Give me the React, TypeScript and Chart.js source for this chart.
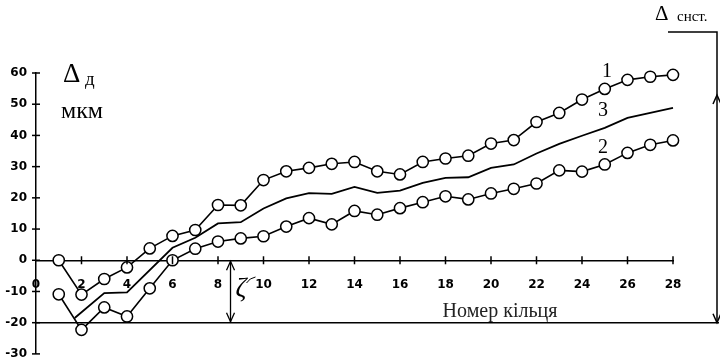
import React, { useEffect, useRef } from "react";
import { Chart, registerables } from "chart.js";

Chart.register(...registerables);

const ringsX: number[] = [1, 2, 3, 4, 5, 6, 7, 8, 9, 10, 11, 12, 13, 14, 15, 16, 17, 18, 19, 20, 21, 22, 23, 24, 25, 26, 27, 28];
const series1: number[] = [0, -11, -6, -2.3, 3.8, 7.8, 9.7, 17.7, 17.6, 25.7, 28.5, 29.6, 30.9, 31.5, 28.5, 27.5, 31.5, 32.6, 33.5, 37.4, 38.5, 44.3, 47.2, 51.5, 54.9, 57.8, 58.8, 59.4];
const series2: number[] = [-10.9, -22.3, -15.1, -18, -9, 0, 3.7, 6, 7, 7.7, 10.8, 13.5, 11.5, 15.8, 14.6, 16.7, 18.6, 20.5, 19.5, 21.4, 22.9, 24.6, 28.8, 28.4, 30.7, 34.4, 37, 38.4];
const series3X: number[] = [1.7, 3, 4, 6, 7, 8, 9, 10, 11, 12, 13, 14, 15, 16, 17, 18, 19, 20, 21, 22, 23, 24, 25, 26, 27, 28, 29.2];
const series3: number[] = [-18.5, -10.5, -10.3, 4, 7.2, 11.8, 12.2, 16.6, 19.8, 21.5, 21.3, 23.5, 21.6, 22.3, 24.8, 26.4, 26.6, 29.6, 30.7, 34.2, 37.3, 39.9, 42.4, 45.6, 47.2, 48.8, 52.3];
const xTicks = { min: 0, max: 28, step: 2 };
const yTicks = { min: -30, max: 60, step: 10 };
const zetaLevel = -20;

const SERIF = "'Liberation Serif', 'DejaVu Serif', serif";

function arrowHead(ctx: CanvasRenderingContext2D, x: number, y: number, dir: number) {
  ctx.beginPath();
  ctx.moveTo(x - 4, y - dir * 9);
  ctx.lineTo(x, y);
  ctx.lineTo(x + 4, y - dir * 9);
  ctx.stroke();
}

const annotations = {
  id: "annotations",
  afterDraw(chart: any) {
    const ctx: CanvasRenderingContext2D = chart.ctx;
    const xs = chart.scales.x;
    const ys = chart.scales.y;
    const area = chart.chartArea;
    const y0 = ys.getPixelForValue(0);
    ctx.save();
    ctx.strokeStyle = "#000";
    ctx.fillStyle = "#000";
    ctx.lineWidth = 1.5;
    // crossing tick marks
    for (let v = xTicks.min + xTicks.step; v <= xTicks.max; v += xTicks.step) {
      const px = xs.getPixelForValue(v);
      ctx.beginPath();
      ctx.moveTo(px, y0 - 4);
      ctx.lineTo(px, y0 + 4);
      ctx.stroke();
    }
    for (let v = yTicks.min; v <= yTicks.max; v += yTicks.step) {
      const py = ys.getPixelForValue(v);
      ctx.beginPath();
      ctx.moveTo(area.left - 4, py);
      ctx.lineTo(area.left + 4, py);
      ctx.stroke();
    }
    // line at -20
    const yz = ys.getPixelForValue(zetaLevel);
    ctx.beginPath();
    ctx.moveTo(area.left, yz);
    ctx.lineTo(719, yz);
    ctx.stroke();
    // zeta arrow
    const zx = xs.getPixelForValue(8.55);
    ctx.lineWidth = 1.3;
    ctx.beginPath();
    ctx.moveTo(zx, y0);
    ctx.lineTo(zx, yz);
    ctx.stroke();
    arrowHead(ctx, zx, y0 + 1, -1);
    arrowHead(ctx, zx, yz - 1, 1);
    ctx.font = `italic 27px ${SERIF}`;
    ctx.textAlign = "left";
    ctx.textBaseline = "alphabetic";
    ctx.fillText("ζ", zx + 5, 296);
    ctx.lineWidth = 1;
    ctx.beginPath();
    ctx.moveTo(zx + 16, 283);
    ctx.quadraticCurveTo(zx + 19, 278, zx + 25, 277);
    ctx.stroke();
    // delta_snst
    ctx.lineWidth = 1.5;
    ctx.beginPath();
    ctx.moveTo(668, 32);
    ctx.lineTo(717, 32);
    ctx.lineTo(717, yz);
    ctx.stroke();
    arrowHead(ctx, 717, 95, -1);
    arrowHead(ctx, 717, yz, 1);
    ctx.font = `21px ${SERIF}`;
    ctx.fillText("Δ", 655, 20);
    ctx.font = `15px ${SERIF}`;
    ctx.fillText("снст.", 677, 21);
    // delta_d
    ctx.font = `27px ${SERIF}`;
    ctx.fillText("Δ", 63, 82);
    ctx.font = `19px ${SERIF}`;
    ctx.fillText("д", 85, 85);
    ctx.font = `24px ${SERIF}`;
    ctx.fillText("мкм", 61, 118);
    // series labels
    ctx.font = `20px ${SERIF}`;
    ctx.textAlign = "center";
    ctx.textBaseline = "middle";
    ctx.fillText("1", 607, 72);
    ctx.fillText("3", 603, 111);
    ctx.fillText("2", 603, 148);
    // axis title
    ctx.fillStyle = "#222";
    ctx.font = `20px ${SERIF}`;
    ctx.fillText("Номер кільця", 500, 312);
    ctx.restore();
  },
};

export default function App() {
  const ref = useRef<HTMLCanvasElement | null>(null);
  useEffect(() => {
    if (!ref.current) return;
    const pointStyle = {
      borderColor: "#000",
      borderWidth: 1.6,
      pointRadius: 5.6,
      pointBorderWidth: 1.5,
      pointBackgroundColor: "#fff",
      pointBorderColor: "#000",
      tension: 0,
      clip: false as any,
    };
    const chart = new Chart(ref.current, {
      type: "line",
      data: {
        datasets: [
          {
            label: "3",
            data: series3X.map((x, i) => ({ x, y: series3[i] })),
            borderColor: "#000",
            borderWidth: 1.8,
            pointRadius: 0,
            tension: 0,
            clip: false as any,
          },
          {
            label: "1",
            data: ringsX.map((x, i) => ({ x, y: series1[i] })),
            ...pointStyle,
          },
          {
            label: "2",
            data: ringsX.map((x, i) => ({ x, y: series2[i] })),
            ...pointStyle,
          },
        ],
      },
      options: {
        animation: false,
        responsive: false,
        maintainAspectRatio: false,
        layout: { padding: { top: 73, right: 47, bottom: 6, left: 0 } },
        plugins: { legend: { display: false }, tooltip: { enabled: false } },
        scales: {
          x: {
            type: "linear",
            min: xTicks.min,
            max: xTicks.max,
            position: { y: 0 } as any,
            afterFit: (s: any) => {
              s.height = 0;
              s.paddingLeft = 0;
              s.paddingRight = 0;
            },
            ticks: {
              stepSize: xTicks.step,
              padding: 17,
              color: "#000",
              font: { family: "'DejaVu Sans'", size: 12, weight: "bold" },
            },
            grid: { drawOnChartArea: false, drawTicks: false },
            border: { color: "#000", width: 1.5 },
          },
          y: {
            type: "linear",
            min: yTicks.min,
            max: yTicks.max,
            afterFit: (s: any) => {
              s.width = 36;
              s.paddingTop = 0;
              s.paddingBottom = 0;
            },
            ticks: {
              stepSize: yTicks.step,
              padding: 9,
              color: "#000",
              font: { family: "'DejaVu Sans'", size: 12, weight: "bold" },
            },
            grid: { drawOnChartArea: false, drawTicks: false },
            border: { color: "#000", width: 1.5 },
          },
        },
      },
      plugins: [annotations],
    });
    return () => chart.destroy();
  }, []);
  return (
    <div style={{ position: "absolute", left: 0, top: 0, width: 720, height: 361, background: "#fff" }}>
      <canvas ref={ref} width={720} height={361} />
    </div>
  );
}
